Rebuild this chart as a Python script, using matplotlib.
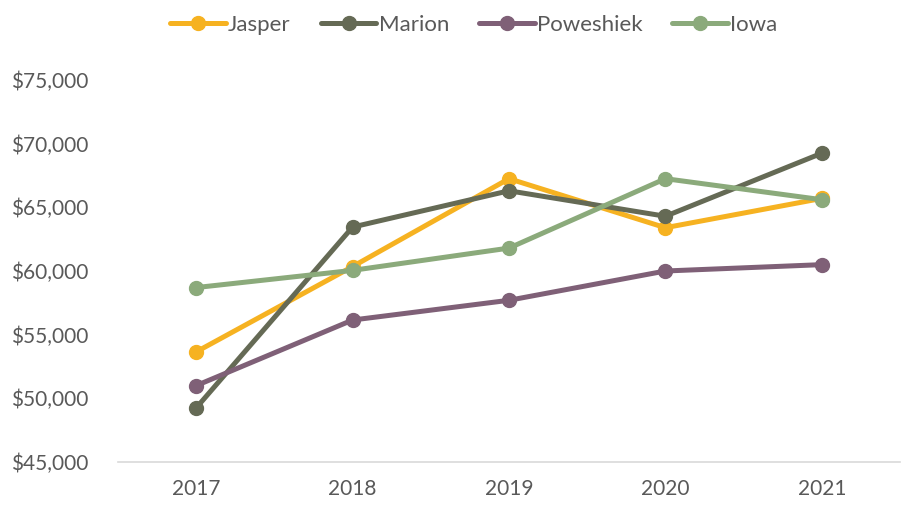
import matplotlib
matplotlib.use("Agg")
import matplotlib.pyplot as plt
from matplotlib.ticker import FuncFormatter

years = ["2017", "2018", "2019", "2020", "2021"]
jasper = [53650, 60350, 67250, 63400, 65700]
marion = [49250, 63450, 66300, 64300, 69250]
poweshiek = [51000, 56150, 57700, 60000, 60500]
iowa = [58700, 60050, 61800, 67250, 65600]

series_names = ["Jasper", "Marion", "Poweshiek", "Iowa"]
series_vals = [jasper, marion, poweshiek, iowa]
colors = ["#F6B221", "#656A55", "#7F6077", "#8BAA7B"]

plt.rcParams['font.family'] = ['Lato', 'DejaVu Sans']

fig = plt.figure(figsize=(9.01, 5.07), dpi=100)
ax = fig.add_axes([118/901, 1-462/507, (900-118)/901, (462-80)/507])

x = list(range(len(years)))
for name, vals, c in zip(series_names, series_vals, colors):
    ax.plot(x, vals, color=c, lw=3.6, marker='o', ms=10, label=name,
            solid_capstyle='round', solid_joinstyle='round')

ax.set_xlim(-0.5, len(years) - 0.5)
ax.set_ylim(45000, 75000)
ax.set_yticks(range(45000, 75001, 5000))
ax.yaxis.set_major_formatter(FuncFormatter(lambda v, p: f"${v:,.0f}"))
ax.set_xticks(x)
ax.set_xticklabels(years)

for s in ["top", "right", "left"]:
    ax.spines[s].set_visible(False)
ax.spines["bottom"].set_color("#D9D9D9")
ax.spines["bottom"].set_linewidth(1.2)
ax.tick_params(axis='both', length=0, labelsize=15, colors="#595959")
ax.tick_params(axis='y', pad=21)
ax.tick_params(axis='x', pad=12)

leg = fig.legend(loc='upper center', bbox_to_anchor=(0.526, 1.01), ncol=4, frameon=False,
                 fontsize=16, handlelength=2.5, columnspacing=1.35, handletextpad=0.1,
                 labelcolor="#595959")

fig.savefig("out.png", dpi=100)
